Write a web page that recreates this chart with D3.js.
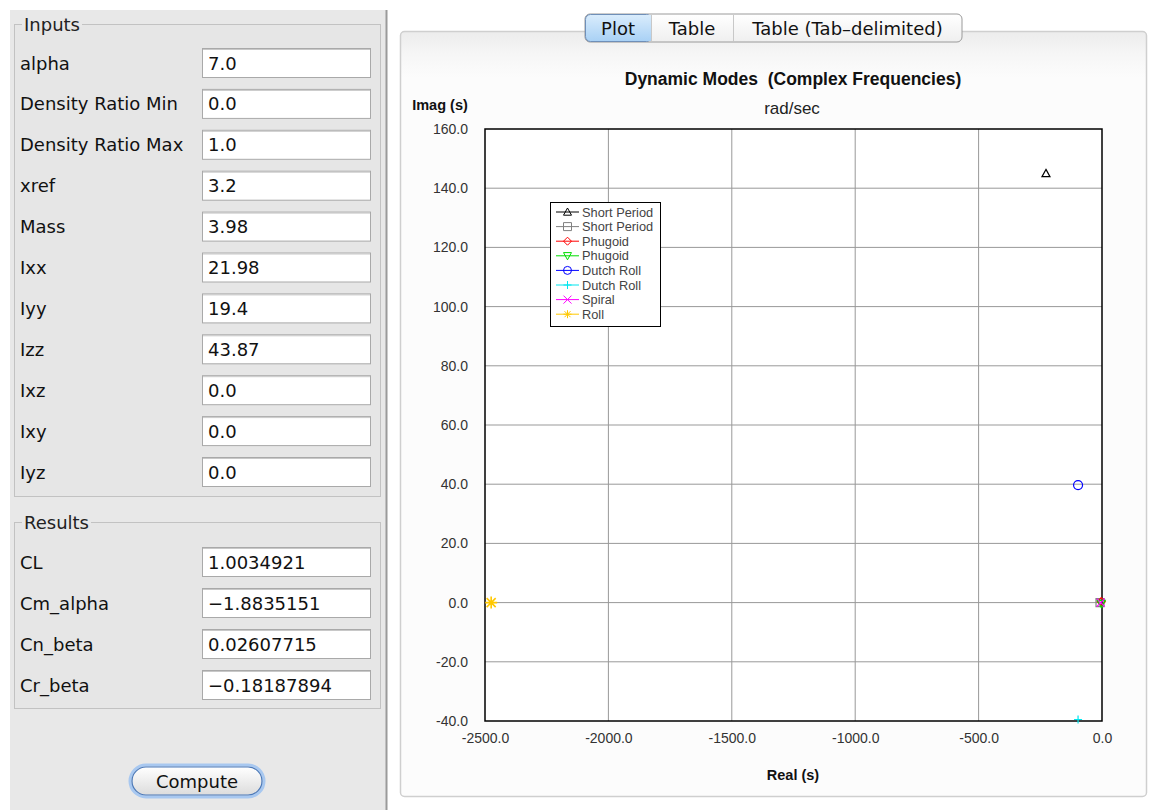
<!DOCTYPE html>
<html><head><meta charset="utf-8">
<script src="https://cdn.jsdelivr.net/npm/d3@7"></script>
<style>html,body{margin:0;padding:0;background:#fff;}svg{display:block;}text{white-space:pre;}</style>
</head><body>
<script>
// ---- data ----
const inputLabels = ["alpha","Density Ratio Min","Density Ratio Max","xref","Mass","Ixx","Iyy","Izz","Ixz","Ixy","Iyz"];
const inputValues = ["7.0","0.0","1.0","3.2","3.98","21.98","19.4","43.87","0.0","0.0","0.0"];
const resultLabels = ["CL","Cm_alpha","Cn_beta","Cr_beta"];
const resultValues = ["1.0034921","\u22121.8835151","0.02607715","\u22120.18187894"];
const tabs = ["Plot","Table","Table (Tab\u2013delimited)"];

const seriesNames = ["Short Period","Short Period","Phugoid","Phugoid","Dutch Roll","Dutch Roll","Spiral","Roll"];
const seriesColors = ["#000000","#808080","#ff0000","#00dd00","#0000ff","#00e5ee","#ff00ff","#ffc800"];
const seriesSymbols = ["triUp","square","diamond","triDown","circle","plus","cross","star"];
const seriesReal = [-227, -8, -3, -3, -97, -97, -5, -2475];
const seriesImag = [145, 0, 0.3, -0.3, 39.7, -39.5, 0, 0];

const xTicks = [-2500,-2000,-1500,-1000,-500,0];
const yTicks = [-40,-20,0,20,40,60,80,100,120,140,160];

const W = 1154, H = 810;
const svg = d3.select("body").append("svg").attr("width", W).attr("height", H);
const UI = "'DejaVu Sans', sans-serif";
const CH = "'Liberation Sans', Arial, sans-serif";
const FS = 18;

// ---- left panel ----
svg.append("rect").attr("x",0).attr("y",0).attr("width",W).attr("height",H).attr("fill","#ffffff");
svg.append("rect").attr("x",10).attr("y",10).attr("width",376).attr("height",H-10).attr("fill","#e8e8e8");
svg.append("line").attr("x1",386.5).attr("x2",386.5).attr("y1",10).attr("y2",H).attr("stroke","#9a9a9a").attr("stroke-width",2);

function groupBox(gx,gy,w,h,label){
  svg.append("rect").attr("x",gx+0.5).attr("y",gy+0.5).attr("width",w).attr("height",h)
    .attr("fill","#e6e6e6").attr("stroke","#c2c2c2");
  const mask = svg.append("rect");
  const t = svg.append("text").attr("x",gx+10).attr("y",gy+7).attr("font-family",UI).attr("font-size",FS)
    .attr("fill","#222").text(label);
  const bb = t.node().getBBox();
  mask.attr("x",bb.x-2).attr("y",gy-2).attr("width",bb.width+4).attr("height",5).attr("fill","#e8e8e8");
}
function field(fy,label,value){
  svg.append("text").attr("x",20).attr("y",fy+6.5).attr("font-family",UI).attr("font-size",FS).attr("fill","#111").text(label);
  svg.append("rect").attr("x",202.5).attr("y",fy-14.5).attr("width",168).attr("height",29)
    .attr("fill","#fff").attr("stroke","#a9a9a9");
  svg.append("line").attr("x1",203).attr("x2",370).attr("y1",fy-13.5).attr("y2",fy-13.5).attr("stroke","#c8c8c8");
  svg.append("text").attr("x",208).attr("y",fy+6.5).attr("font-family",UI).attr("font-size",FS).attr("fill","#111").text(value);
}
groupBox(14,24,366,472,"Inputs");
inputLabels.forEach((l,i)=>field(63+i*40.9,l,inputValues[i]));
groupBox(14,522,366,186,"Results");
resultLabels.forEach((l,i)=>field(562+i*41,l,resultValues[i]));

// compute button
const defs = svg.append("defs");
const bg = defs.append("linearGradient").attr("id","btn").attr("x1",0).attr("x2",0).attr("y1",0).attr("y2",1);
bg.append("stop").attr("offset","0%").attr("stop-color","#ffffff");
bg.append("stop").attr("offset","100%").attr("stop-color","#dcdcdc");
svg.append("rect").attr("x",130).attr("y",765).attr("width",134).attr("height",32).attr("rx",16)
  .attr("fill","none").attr("stroke","#a8c8f0").attr("stroke-width",3);
svg.append("rect").attr("x",132).attr("y",767).attr("width",130).attr("height",28).attr("rx",14)
  .attr("fill","url(#btn)").attr("stroke","#4a78b8").attr("stroke-width",1.2);
svg.append("text").attr("x",197).attr("y",787.5).attr("text-anchor","middle").attr("font-family",UI).attr("font-size",FS).attr("fill","#111").text("Compute");

// ---- right panel ----
const pg = defs.append("linearGradient").attr("id","pan").attr("x1",0).attr("x2",0).attr("y1",0).attr("y2",1);
pg.append("stop").attr("offset","0%").attr("stop-color","#ececec");
pg.append("stop").attr("offset","3%").attr("stop-color","#f6f6f6");
pg.append("stop").attr("offset","6%").attr("stop-color","#fcfcfc");
pg.append("stop").attr("offset","100%").attr("stop-color","#fcfcfc");
svg.append("rect").attr("x",400.5).attr("y",31.5).attr("width",746).attr("height",765).attr("rx",4)
  .attr("fill","url(#pan)").attr("stroke","#cfcfcf").attr("stroke-width",1.5);

// tabs
const tabX = [585,651,733,962];
const tg = defs.append("linearGradient").attr("id","tabsel").attr("x1",0).attr("x2",0).attr("y1",0).attr("y2",1);
tg.append("stop").attr("offset","0%").attr("stop-color","#d9ecfc");
tg.append("stop").attr("offset","100%").attr("stop-color","#a9d1f5");
const tu = defs.append("linearGradient").attr("id","tabun").attr("x1",0).attr("x2",0).attr("y1",0).attr("y2",1);
tu.append("stop").attr("offset","0%").attr("stop-color","#ffffff");
tu.append("stop").attr("offset","100%").attr("stop-color","#efefef");
svg.append("rect").attr("x",tabX[0]).attr("y",14).attr("width",tabX[3]-tabX[0]).attr("height",28).attr("rx",5)
  .attr("fill","url(#tabun)").attr("stroke","#9a9a9a");
svg.append("rect").attr("x",tabX[0]+0.5).attr("y",14.5).attr("width",tabX[1]-tabX[0]).attr("height",27)
  .attr("rx",5).attr("fill","url(#tabsel)").attr("stroke","#6f8fb8");
svg.append("rect").attr("x",tabX[0]+8).attr("y",15).attr("width",tabX[1]-tabX[0]-7.5).attr("height",26).attr("fill","url(#tabsel)");
[1,2].forEach(i=>svg.append("line").attr("x1",tabX[i]+0.5).attr("x2",tabX[i]+0.5).attr("y1",15).attr("y2",41).attr("stroke","#c8c8c8"));
tabs.forEach((t,i)=>svg.append("text").attr("x",(tabX[i]+tabX[i+1])/2).attr("y",34.5).attr("text-anchor","middle")
  .attr("font-family",UI).attr("font-size",FS).attr("fill","#111").text(t));

// ---- chart ----
const pL=485, pR=1102, pT=129, pB=721;
const x = d3.scaleLinear().domain([-2500,0]).range([pL,pR]);
const y = d3.scaleLinear().domain([-40,160]).range([pB,pT]);
const fmt = v => d3.format(".1f")(v).replace("\u2212","-");

svg.append("rect").attr("x",pL).attr("y",pT).attr("width",pR-pL).attr("height",pB-pT).attr("fill","#fff");
// grid
svg.append("g").selectAll("line").data(xTicks.slice(1,-1)).join("line")
  .attr("x1",d=>x(d)).attr("x2",d=>x(d)).attr("y1",pT).attr("y2",pB).attr("stroke","#999").attr("stroke-width",1);
svg.append("g").selectAll("line").data(yTicks.slice(1,-1)).join("line")
  .attr("x1",pL).attr("x2",pR).attr("y1",d=>y(d)).attr("y2",d=>y(d)).attr("stroke","#999").attr("stroke-width",1);

// axes (labels only, via d3 axes)
const xa = svg.append("g").attr("transform",`translate(0,${pB+12})`)
  .call(d3.axisBottom(x).tickValues(xTicks).tickFormat(fmt).tickSize(0).tickPadding(0));
xa.select(".domain").remove();
xa.selectAll("text").attr("font-family",CH).attr("font-size",14).attr("fill","#333");
const ya = svg.append("g").attr("transform",`translate(${pL-17},0)`)
  .call(d3.axisLeft(y).tickValues(yTicks).tickFormat(fmt).tickSize(0).tickPadding(0));
ya.select(".domain").remove();
ya.selectAll("text").attr("font-family",CH).attr("font-size",14).attr("fill","#333");

svg.append("rect").attr("x",pL).attr("y",pT).attr("width",pR-pL).attr("height",pB-pT)
  .attr("fill","none").attr("stroke","#000").attr("stroke-width",1.5);

// titles
svg.append("text").attr("x",793).attr("y",85).attr("text-anchor","middle").attr("font-family",CH).attr("font-weight","bold")
  .attr("font-size",17.5).attr("fill","#111").text("Dynamic Modes  (Complex Frequencies)");
svg.append("text").attr("x",792).attr("y",114).attr("text-anchor","middle").attr("font-family",CH)
  .attr("font-size",17).attr("fill","#222").text("rad/sec");
svg.append("text").attr("x",440).attr("y",110).attr("text-anchor","middle").attr("font-family",CH).attr("font-weight","bold")
  .attr("font-size",14.5).attr("fill","#111").text("Imag (s)");
svg.append("text").attr("x",793).attr("y",780).attr("text-anchor","middle").attr("font-family",CH).attr("font-weight","bold")
  .attr("font-size",14.5).attr("fill","#111").text("Real (s)");

// markers
function markerPath(type,s){
  switch(type){
    case "triUp": return `M0,${-s}L${s},${s*0.8}L${-s},${s*0.8}Z`;
    case "triDown": return `M0,${s}L${s},${-s*0.8}L${-s},${-s*0.8}Z`;
    case "square": return `M${-s},${-s}H${s}V${s}H${-s}Z`;
    case "diamond": return `M0,${-s}L${s},0L0,${s}L${-s},0Z`;
    case "circle": return `M${s},0A${s},${s} 0 1 1 ${-s},0A${s},${s} 0 1 1 ${s},0Z`;
    case "plus": return `M${-s},0H${s}M0,${-s}V${s}`;
    case "cross": return `M${-s},${-s}L${s},${s}M${-s},${s}L${s},${-s}`;
    case "star": return `M${-s},0H${s}M0,${-s}V${s}M${-s*0.75},${-s*0.75}L${s*0.75},${s*0.75}M${-s*0.75},${s*0.75}L${s*0.75},${-s*0.75}`;
  }
}
const pts = seriesNames.map((n,i)=>({i, re:seriesReal[i], im:seriesImag[i]}));
svg.append("g").selectAll("path").data(pts).join("path")
  .attr("transform",d=>`translate(${x(d.re)},${y(d.im)})`)
  .attr("d",d=>markerPath(seriesSymbols[d.i], d.i===4?4.5:(d.i===7?6:4)))
  .attr("fill","none").attr("stroke",d=>seriesColors[d.i]).attr("stroke-width",d=>d.i===7?1.6:1.2);

// legend
const lg = svg.append("g");
lg.append("rect").attr("x",550.5).attr("y",202.5).attr("width",110).attr("height",124).attr("fill","#fff").attr("stroke","#000");
seriesNames.forEach((n,i)=>{
  const yy = 212 + i*14.6;
  lg.append("line").attr("x1",556).attr("x2",579).attr("y1",yy).attr("y2",yy).attr("stroke",seriesColors[i]).attr("stroke-width",1);
  lg.append("path").attr("transform",`translate(567.5,${yy})`).attr("d",markerPath(seriesSymbols[i],4))
    .attr("fill","none").attr("stroke",seriesColors[i]).attr("stroke-width",1);
  lg.append("text").attr("x",582).attr("y",yy+4.5).attr("font-family",CH).attr("font-size",12.8).attr("fill","#444").text(n);
});
</script>
</body></html>
